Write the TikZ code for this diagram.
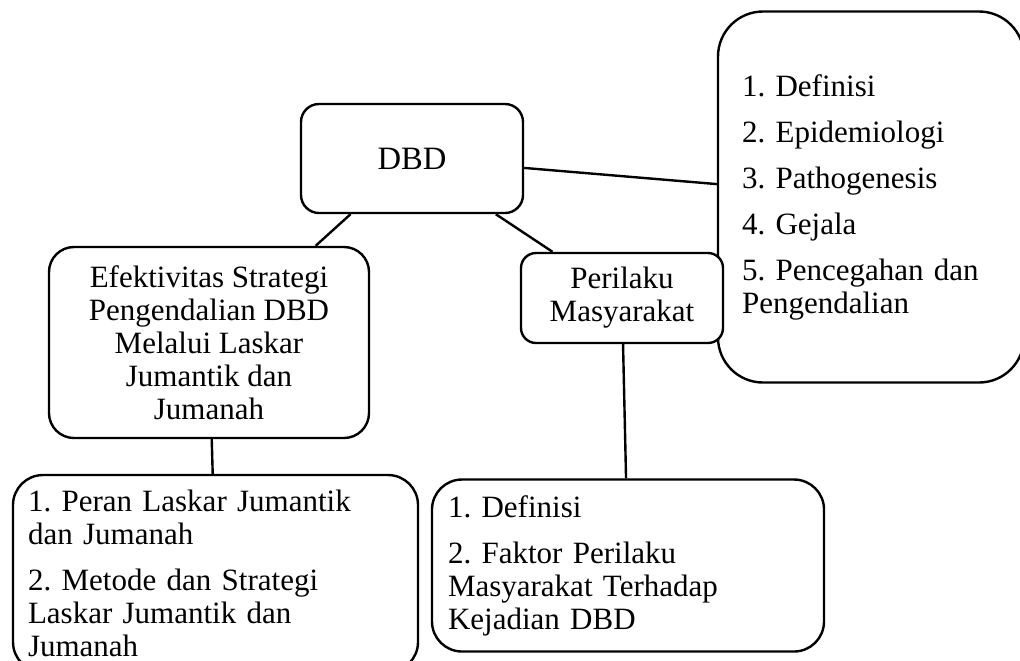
\documentclass[tikz,border=0pt]{standalone}
\usepackage{fontspec}
\setmainfont{Liberation Serif}
\frenchspacing

\begin{document}
\begin{tikzpicture}[
    x=0.5pt, y=-0.5pt,
    box/.style={rectangle, draw=black, fill=white, line width=1.2pt, align=center, inner sep=0pt, font=\fontsize{15.5}{16.5}\selectfont},
    listbox/.style={box, align=left},
    link/.style={line width=1.2pt, draw=black}
]
    \useasboundingbox (0,0) rectangle (1020,660);
    \clip (0,0) rectangle (1020,660);

    \node [box, rounded corners=9pt, minimum width=111pt, minimum height=54.5pt, font=\fontsize{16.3}{20}\selectfont] (dbd) at (412,158.5) {DBD};
    \node [box, rounded corners=12.5pt, minimum width=160pt, minimum height=95.5pt] (efk) at (209,342.5) {Efektivitas Strategi\\Pengendalian DBD\\Melalui Laskar\\Jumantik dan\\Jumanah};
    \node [listbox, rounded corners=22.5pt, minimum width=153pt, minimum height=185.5pt, text width=129pt] (teori) at (871,197) {1. Definisi\\[6.5pt]2. Epidemiologi\\[6.5pt]3. Pathogenesis\\[6.5pt]4. Gejala\\[6.5pt]5. Pencegahan dan\\Pengendalian};
    \node [box, rounded corners=7.5pt, minimum width=101pt, minimum height=45pt] (plk) at (622,298) {Perilaku\\Masyarakat};

    \node [listbox, rounded corners=15pt, minimum width=202.5pt, minimum height=98.5pt, text width=187.5pt] (peran) at (215.5,573.5) {1. Peran Laskar Jumantik\\dan Jumanah\\[6.5pt]2. Metode dan Strategi\\Laskar Jumantik dan\\Jumanah};
    \node [listbox, rounded corners=15pt, minimum width=196pt, minimum height=86pt, text width=180pt] (faktor) at (628,565.5) {1. Definisi\\[6.5pt]2. Faktor Perilaku\\Masyarakat Terhadap\\Kejadian DBD};

    % links
    \draw [link] (dbd) -- (efk);
    \draw [link] (dbd) -- (plk);
    \draw [link] (dbd) -- (teori);
    \draw [link] (efk) -- (peran);
    \draw [link] (plk) -- (faktor);
\end{tikzpicture}
\end{document}
